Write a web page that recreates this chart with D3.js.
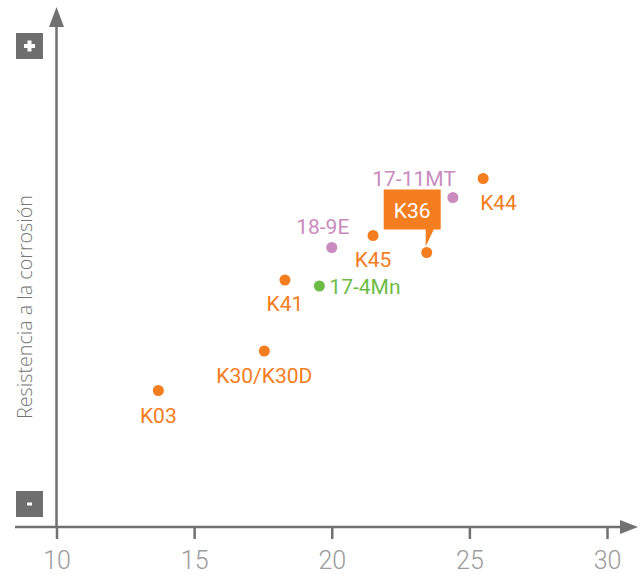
<!DOCTYPE html>
<html>
<head>
<meta charset="utf-8">
<script src="https://cdn.jsdelivr.net/npm/d3@7"></script>
<style>
  html, body { margin: 0; padding: 0; background: #fff; }
  svg { display: block; }
</style>
</head>
<body>
<svg id="chart" width="644" height="574"></svg>
<script>
// Steel grades: x value on the horizontal scale, relative corrosion resistance
const grades     = ["K03", "K30/K30D", "K41", "17-4Mn", "18-9E", "K45", "K36", "17-11MT", "K44"];
const xValues    = [13.7, 17.55, 18.3, 19.55, 20.0, 21.5, 23.45, 24.4, 25.5];
const yValues    = [2.73, 3.52, 4.94, 4.82, 5.59, 5.83, 5.49, 6.59, 6.97];
const families   = ["ferr", "ferr", "ferr", "aus", "dup", "ferr", "ferr", "dup", "ferr"];
const xTicks     = [10, 15, 20, 25, 30];
const yTitle     = "Resistencia a la corrosión";
const highlighted = "K36";

const colors = { ferr: "#f47d20", dup: "#c98bbe", aus: "#6cbb45" };
const axisColor = "#717171";

const svg = d3.select("#chart");

const x = d3.scaleLinear().domain([10, 30]).range([56.5, 607]);
const y = d3.scaleLinear().domain([0, 10]).range([527, 27]);

// Horizontal axis with ticks
const xAxis = d3.axisBottom(x).tickValues(xTicks).tickSize(12).tickPadding(12).tickFormat(d3.format("d"));
const gx = svg.append("g").attr("transform", `translate(0,${y(0)})`).call(xAxis);
gx.select(".domain").remove();
gx.selectAll(".tick line").attr("stroke", axisColor).attr("stroke-width", 2.5);
gx.selectAll(".tick text")
  .attr("fill", "#9b9b9b")
  .attr("font-family", "Roboto, sans-serif")
  .attr("font-weight", 300)
  .attr("font-size", 25)
  .attr("dy", "0.71em");

// Axis lines with arrow heads
svg.append("line")
  .attr("x1", 15).attr("x2", 621)
  .attr("y1", y(0)).attr("y2", y(0))
  .attr("stroke", axisColor).attr("stroke-width", 2.5);
svg.append("path")
  .attr("d", `M620,${y(0) - 7} L638,${y(0)} L620,${y(0) + 7} Z`)
  .attr("fill", axisColor);

svg.append("line")
  .attr("x1", x(10)).attr("x2", x(10))
  .attr("y1", 26).attr("y2", y(0))
  .attr("stroke", axisColor).attr("stroke-width", 2.5);
svg.append("path")
  .attr("d", `M${x(10) - 7.5},27 L${x(10)},7 L${x(10) + 7.5},27 Z`)
  .attr("fill", axisColor);

// Vertical axis title
svg.append("text")
  .attr("transform", "translate(32,307) rotate(-90)")
  .attr("text-anchor", "middle")
  .attr("fill", "#767676")
  .attr("font-family", "'Open Sans', sans-serif")
  .attr("font-weight", 300)
  .attr("font-size", 19.7)
  .text(yTitle);

// "+" and "-" markers on the vertical axis
svg.append("rect").attr("x", 16).attr("y", 33).attr("width", 27).attr("height", 26).attr("fill", "#6e6e6e");
svg.append("rect").attr("x", 24).attr("y", 44).attr("width", 11).attr("height", 4).attr("fill", "#fff");
svg.append("rect").attr("x", 27.5).attr("y", 40.5).attr("width", 4).attr("height", 11).attr("fill", "#fff");
svg.append("rect").attr("x", 16).attr("y", 491).attr("width", 27).attr("height", 26).attr("fill", "#6e6e6e");
svg.append("rect").attr("x", 27).attr("y", 502.5).attr("width", 5).attr("height", 3).attr("fill", "#fff");

const points = grades.map((g, i) => ({ name: g, x: xValues[i], y: yValues[i], fam: families[i] }));

// Label placement relative to each point
const labelPos = {
  "K03":      { dx: 0,   dy: 32, anchor: "middle" },
  "K30/K30D": { dx: 0,   dy: 32, anchor: "middle" },
  "K41":      { dx: 0,   dy: 31, anchor: "middle" },
  "17-4Mn":   { dx: 10,  dy: 8,  anchor: "start" },
  "18-9E":    { dx: -9,  dy: -14, anchor: "middle" },
  "K45":      { dx: 0,   dy: 31, anchor: "middle" },
  "17-11MT":  { dx: 3,   dy: -12, anchor: "end" },
  "K44":      { dx: -3,  dy: 31, anchor: "start" }
};

const labelFont = "Roboto, sans-serif";

// Callout box for the highlighted grade
const hp = points.find(p => p.name === highlighted);
const hx = x(hp.x), hy = y(hp.y);
const bx = hx - 43, by = hy - 63, bw = 57, bh = 40;
svg.append("path")
  .attr("d", `M${bx},${by} H${bx + bw} V${by + bh} H${hx + 7} L${hx - 1},${hy - 6} L${hx - 1},${by + bh} H${bx} Z`)
  .attr("fill", colors[hp.fam]);
svg.append("text")
  .attr("x", bx + bw / 2).attr("y", by + 28)
  .attr("text-anchor", "middle")
  .attr("fill", "#fff")
  .attr("font-family", labelFont)
  .attr("font-size", 21)
  .text(hp.name);

// Points
svg.append("g").selectAll("circle")
  .data(points)
  .join("circle")
  .attr("cx", d => x(d.x))
  .attr("cy", d => y(d.y))
  .attr("r", 5.5)
  .attr("fill", d => colors[d.fam]);

// Point labels
svg.append("g").selectAll("text")
  .data(points.filter(p => p.name !== highlighted))
  .join("text")
  .attr("x", d => x(d.x) + labelPos[d.name].dx)
  .attr("y", d => y(d.y) + labelPos[d.name].dy)
  .attr("text-anchor", d => labelPos[d.name].anchor)
  .attr("fill", d => colors[d.fam])
  .attr("font-family", labelFont)
  .attr("font-size", 21)
  .text(d => d.name);
</script>
</body>
</html>
